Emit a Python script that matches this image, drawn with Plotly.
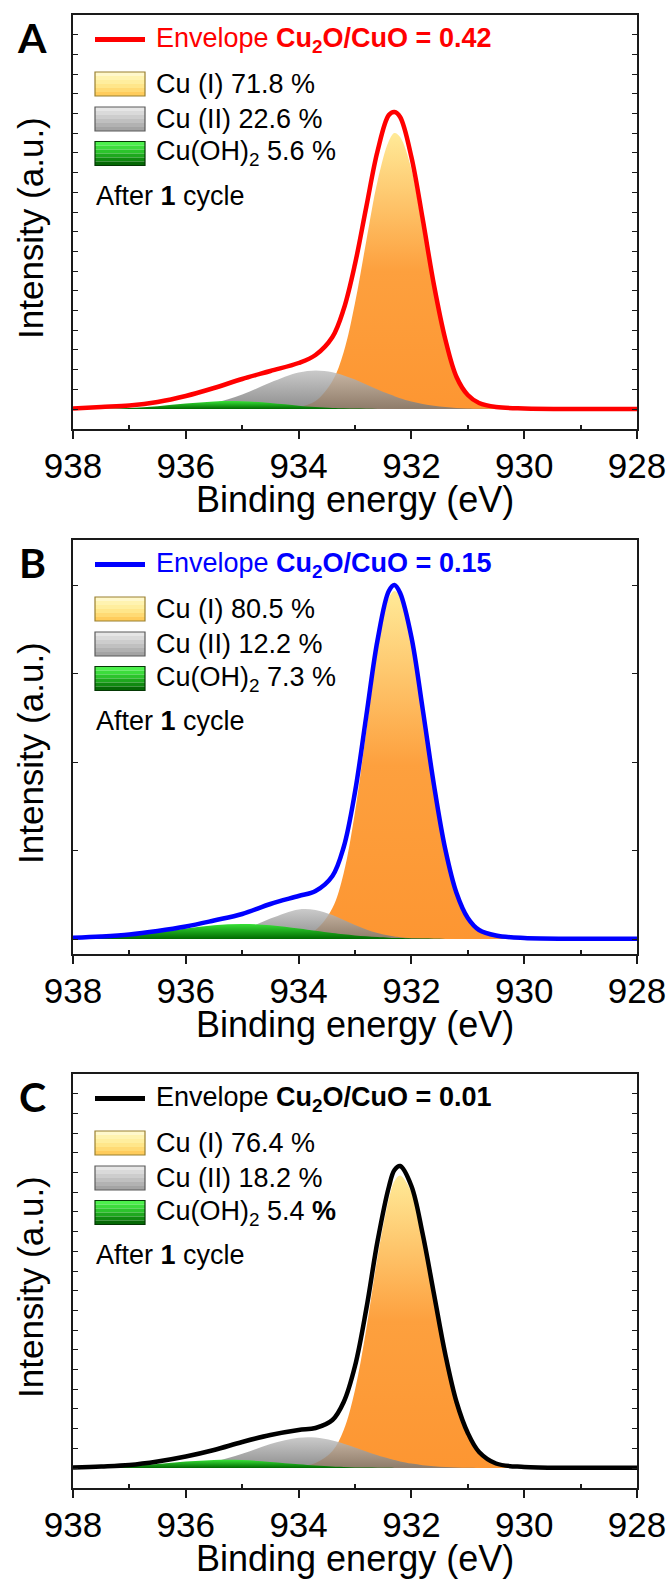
import plotly.graph_objects as go

# ---------------- data ----------------
energy = [938.0, 937.5, 937.0, 936.5, 936.0, 935.5, 935.0, 934.5, 934.0, 933.7,
          933.4, 933.2, 933.0, 932.8, 932.6, 932.4, 932.3, 932.2, 932.0, 931.8,
          931.6, 931.4, 931.2, 931.0, 930.8, 930.5, 930.0, 929.0, 928.0]

# Panel A
env_A = [0.5, 2, 3.5, 7, 13, 21, 30, 38, 46, 54, 72, 100, 145, 202, 258, 294, 297, 292,
         252, 190, 124, 70, 32, 14, 6, 2, 0.5, 0, 0]
cu1_A = [0, 0, 0, 0, 0, 0, 0, 0.3, 2, 8, 28, 57, 106, 168, 228, 268, 276, 272, 240, 180,
         118, 66, 29, 12, 5, 2, 0.5, 0, 0]
cu2_A = [0, 0, 0.1, 0.4, 1.8, 5.9, 14.4, 26.5, 36.5, 38.6, 36.8, 33.6, 29.4, 24.5, 19.5,
         14.9, 12.8, 10.8, 7.5, 5.0, 3.2, 1.9, 1.1, 0.6, 0.3, 0.1, 0, 0, 0]
oh_A = [0.1, 0.3, 1.1, 2.8, 5.4, 7.6, 7.8, 5.9, 3.3, 2.0, 1.1, 0.7, 0.4, 0.2, 0.1, 0, 0, 0,
        0, 0, 0, 0, 0, 0, 0, 0, 0, 0, 0]

# Panel B
env_B = [1.2, 2.5, 4.5, 8, 12.5, 18.5, 25, 35, 43, 48, 63, 92, 147, 223, 299, 348, 354, 346,
         302, 230, 154, 90, 46, 21, 9, 3.5, 1, 0.3, 0.3]
cu1_B = [0, 0, 0, 0, 0, 0, 0, 0.5, 2.5, 9, 31, 66, 127, 208, 289, 341, 348, 342, 299, 228,
         152, 89, 45, 20, 8, 3, 0.5, 0, 0]
cu2_B = [0, 0, 0, 0, 0.35, 2.2, 8.7, 20.5, 29.6, 29, 23.9, 19, 14, 9.5, 5.9, 3.4, 2.5, 1.8,
         0.9, 0.4, 0.2, 0, 0, 0, 0, 0, 0, 0, 0]
oh_B = [0.6, 1.6, 3.6, 6.7, 10.5, 13.7, 15, 13.7, 10.5, 8.2, 6.0, 4.7, 3.6, 2.7, 1.9, 1.35,
        1.1, 0.9, 0.6, 0.4, 0.2, 0, 0, 0, 0, 0, 0, 0, 0]

# Panel C
env_C = [0.5, 1.5, 3, 6.5, 11.5, 18, 26, 33, 38, 40, 48, 66, 102, 159, 227, 281, 298, 302,
         282, 234, 174, 114, 66, 35, 16, 4.5, 1, 0.3, 0.3]
cu1_C = [0, 0, 0, 0, 0, 0, 0, 0.2, 1.5, 5, 17, 38, 78, 139, 211, 269, 287, 292.6, 276, 230,
         171, 112, 65, 34, 15.5, 4, 0.5, 0, 0]
cu2_C = [0, 0, 0.1, 0.5, 2.1, 6.3, 14.2, 23.9, 30.2, 30.4, 27.5, 24.3, 20.5, 16.5, 12.7,
         9.4, 7.9, 6.6, 4.4, 2.8, 1.7, 1.0, 0.6, 0.3, 0.1, 0, 0, 0, 0]
oh_C = [0.2, 0.7, 1.9, 3.9, 6.4, 8.1, 8.0, 6.1, 3.7, 2.4, 1.4, 1.0, 0.6, 0.4, 0.25, 0.15,
        0.1, 0, 0, 0, 0, 0, 0, 0, 0, 0, 0, 0, 0]

panel_labels = ["A", "B", "C"]
ratios = ["0.42", "0.15", "0.01"]
pct_cu1 = ["71.8", "80.5", "76.4"]
pct_cu2 = ["22.6", "12.2", "18.2"]
pct_oh = ["5.6", "7.3", "5.4"]
x_ticks = [938, 936, 934, 932, 930, 928]
x_minor = [937, 935, 933, 931, 929]

# ---------------- layout / style ----------------
W, H = 671, 1580
FONT = "Liberation Sans, Arial, sans-serif"
env_colors = ["#FF0000", "#0000FF", "#000000"]
frames = [(15, 429), (540, 954), (1074, 1488)]       # top/bottom px of plot areas
yranges = [[-20, 394], [-15, 399], [-20, 394]]
ydticks = [19.7, 88.5, 19.7]
X0, X1 = 73, 637


def px(x):
    return x / W


def py(y):
    return 1 - y / H


series = [(env_A, cu1_A, cu2_A, oh_A), (env_B, cu1_B, cu2_B, oh_B), (env_C, cu1_C, cu2_C, oh_C)]

fig = go.Figure()
annotations = []
shapes = []

for i, (env, cu1, cu2, oh) in enumerate(series):
    xa = "x" if i == 0 else f"x{i+1}"
    ya = "y" if i == 0 else f"y{i+1}"
    top, bot = frames[i]
    # Cu(I)
    fig.add_trace(go.Scatter(
        x=energy, y=cu1, xaxis=xa, yaxis=ya, mode="lines",
        line=dict(width=0, shape="spline"), fill="tozeroy",
        fillgradient=dict(type="vertical", start=0, stop=max(cu1),
                          colorscale=[[0, "rgb(253,150,50)"], [0.5, "rgb(253,160,62)"],
                                      [1, "rgb(255,234,152)"]]),
        showlegend=False, hoverinfo="skip"))
    # Cu(II)
    fig.add_trace(go.Scatter(
        x=energy, y=cu2, xaxis=xa, yaxis=ya, mode="lines",
        line=dict(width=0, shape="spline"), fill="tozeroy",
        fillgradient=dict(type="vertical", start=0, stop=max(cu2),
                          colorscale=[[0, "rgba(118,118,118,0.82)"],
                                      [1, "rgba(190,190,190,0.82)"]]),
        showlegend=False, hoverinfo="skip"))
    # Cu(OH)2
    fig.add_trace(go.Scatter(
        x=energy, y=oh, xaxis=xa, yaxis=ya, mode="lines",
        line=dict(width=0, shape="spline"), fill="tozeroy",
        fillgradient=dict(type="vertical", start=0, stop=max(oh),
                          colorscale=[[0, "rgb(0,105,0)"], [1, "rgb(55,225,55)"]]),
        showlegend=False, hoverinfo="skip"))
    # Envelope
    fig.add_trace(go.Scatter(
        x=energy, y=env, xaxis=xa, yaxis=ya, mode="lines",
        line=dict(width=4.5, color=env_colors[i], shape="spline"),
        showlegend=False, hoverinfo="skip"))

    axis_common = dict(showline=True, linecolor="#1a1a1a", linewidth=1.6,
                       showgrid=False, zeroline=False, automargin=False)
    fig.layout[("xaxis" if i == 0 else f"xaxis{i+1}")] = dict(
        domain=[px(X0), px(X1)], anchor=ya, range=[938, 928],
        tickmode="array", tickvals=x_ticks, ticktext=[str(t) for t in x_ticks],
        ticks="outside", ticklen=8, tickwidth=1.5, tickcolor="#1a1a1a",
        ticklabelstandoff=-3,
        tickfont=dict(family=FONT, size=35, color="black"), mirror=True,
        minor=dict(tickmode="array", tickvals=x_minor, ticks="inside", ticklen=4,
                   tickwidth=1.5, tickcolor="#1a1a1a"),
        **axis_common)
    fig.layout[("yaxis" if i == 0 else f"yaxis{i+1}")] = dict(
        domain=[py(bot), py(top)], anchor=xa, range=yranges[i],
        showticklabels=False, ticks="inside", ticklen=5, tickwidth=1.3,
        tickcolor="#1a1a1a", tick0=0, dtick=ydticks[i], mirror="allticks",
        **axis_common)

    # axis titles
    annotations.append(dict(x=px(30), y=py((top + bot) / 2 + 6), xref="paper", yref="paper",
                            text="Intensity (a.u.)", textangle=-90, showarrow=False,
                            font=dict(family=FONT, size=35, color="black"),
                            xanchor="center", yanchor="middle"))
    annotations.append(dict(x=px((X0 + X1) / 2), y=py(bot + 70), xref="paper", yref="paper",
                            text="Binding energy (eV)", showarrow=False,
                            font=dict(family=FONT, size=36, color="black"),
                            xanchor="center", yanchor="middle"))
    # panel letter
    annotations.append(dict(x=px(32), y=py(top + 22), xref="paper", yref="paper",
                            text=f"<b>{panel_labels[i]}</b>", showarrow=False,
                            font=dict(family="Lato, Liberation Sans, sans-serif", size=41,
                                      color="black"),
                            xanchor="center", yanchor="middle"))

    # legend
    lx_text = 154
    y_env = top + 24.5
    shapes.append(dict(type="line", xref="paper", yref="paper",
                       x0=px(95), x1=px(145), y0=py(y_env), y1=py(y_env),
                       line=dict(color=env_colors[i], width=5)))
    annotations.append(dict(x=px(lx_text), y=py(y_env), xref="paper", yref="paper",
                            text=f"Envelope <b>Cu<sub>2</sub>O/CuO = {ratios[i]}</b>",
                            showarrow=False, xanchor="left", yanchor="middle",
                            font=dict(family=FONT, size=27, color=env_colors[i])))
    pct_last = f"{pct_oh[i]} <b>%</b>" if i == 2 else f"{pct_oh[i]} %"
    items = [
        (top + 69, f"Cu (I) {pct_cu1[i]} %",
         ["#FFF8CC", "#FFF3B0", "#FFEE9E", "#FFE68A", "#FFDA74", "#FFCC5C"], "#9A8030"),
        (top + 104, f"Cu (II) {pct_cu2[i]} %",
         ["#E6E6E6", "#DADADA", "#CDCDCD", "#C0C0C0", "#B2B2B2", "#A4A4A4"], "#5A5A5A"),
        (top + 138.5, f"Cu(OH)<sub>2</sub> {pct_last}",
         ["#4CF04C", "#3CDC3C", "#2CC42C", "#1EA81E", "#108A10", "#056805"], "#043804"),
    ]
    for (yc, txt, grad, border) in items:
        h = 24
        y0 = yc - h / 2
        n = len(grad)
        for k, col in enumerate(grad):
            shapes.append(dict(type="rect", xref="paper", yref="paper",
                               x0=px(95), x1=px(145),
                               y0=py(y0 + (k + 1) * h / n), y1=py(y0 + k * h / n),
                               fillcolor=col, line=dict(width=0), layer="above"))
        shapes.append(dict(type="rect", xref="paper", yref="paper",
                           x0=px(95), x1=px(145), y0=py(y0 + h), y1=py(y0),
                           fillcolor="rgba(0,0,0,0)", line=dict(color=border, width=1.2),
                           layer="above"))
        annotations.append(dict(x=px(lx_text), y=py(yc), xref="paper", yref="paper",
                                text=txt, showarrow=False, xanchor="left", yanchor="middle",
                                font=dict(family=FONT, size=27, color="black")))
    annotations.append(dict(x=px(94), y=py(top + 181), xref="paper", yref="paper",
                            text="After <b>1</b> cycle", showarrow=False,
                            xanchor="left", yanchor="middle",
                            font=dict(family=FONT, size=27, color="black")))

fig.update_layout(width=W, height=H, margin=dict(l=0, r=0, t=0, b=0, autoexpand=False),
                  paper_bgcolor="white", plot_bgcolor="white",
                  annotations=annotations, shapes=shapes, showlegend=False)

fig.write_html("out.html")
